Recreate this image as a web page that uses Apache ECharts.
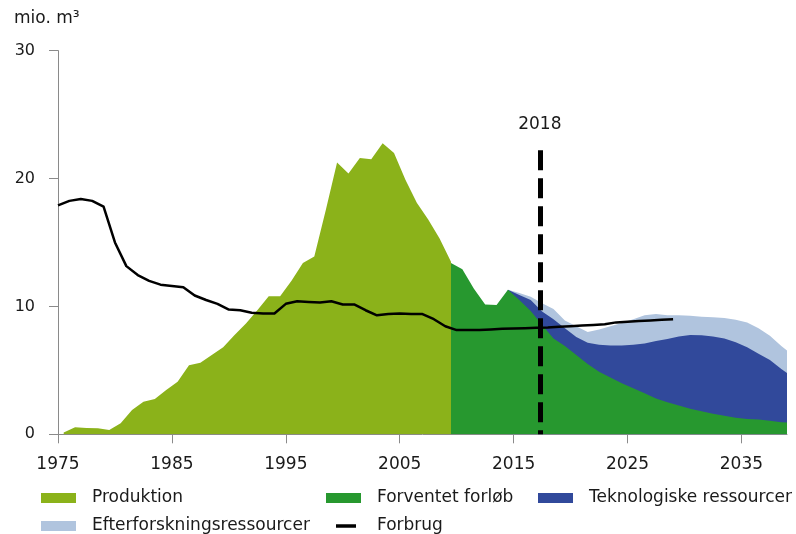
<!DOCTYPE html>
<html>
<head>
<meta charset="utf-8">
<script src="https://cdn.jsdelivr.net/npm/echarts@6/dist/echarts.min.js"></script>
<style>
html,body{margin:0;padding:0;background:#fff;}
#chart{width:796px;height:534px;}
</style>
</head>
<body>
<div id="chart"></div>
<script>
// ---------------- DATA ----------------
const baseYear = 1975;
const xTickYears = [1975, 1985, 1995, 2005, 2015, 2025, 2035];
const yTicks = [0, 10, 20, 30];

// Produktion (historical), mio. m3
const prodYears = [1975,1976,1977,1978,1979,1980,1981,1982,1983,1984,1985,1986,1987,1988,1989,1990,1991,1992,1993,1994,1995,1996,1997,1998,1999,2000,2001,2002,2003,2004,2005,2006,2007,2008,2009];
const produktion = [0.15,0.55,0.5,0.47,0.34,0.86,1.9,2.55,2.76,3.46,4.1,5.4,5.6,6.2,6.8,7.76,8.67,9.7,10.8,10.8,12.0,13.4,13.9,17.5,21.25,20.4,21.6,21.5,22.75,22.0,19.9,18.1,16.8,15.3,13.5];

// Prognosis: expected course
const fcYears = [2009,2010,2011,2012,2013,2014,2015,2016,2017,2018,2019,2020,2021,2022,2023,2024,2025,2026,2027,2028,2029,2030,2031,2032,2033,2034,2035,2036,2037,2038,2039];
const forventet = [13.4,12.9,11.4,10.15,10.1,11.3,10.5,9.65,8.55,7.5,6.9,6.2,5.5,4.9,4.45,4.0,3.6,3.2,2.8,2.5,2.25,2.0,1.8,1.6,1.45,1.3,1.2,1.15,1.05,0.95,0.9];

// Additional resources on top of the expected course
const resYears = [2014,2015,2016,2017,2018,2019,2020,2021,2022,2023,2024,2025,2026,2027,2028,2029,2030,2031,2032,2033,2034,2035,2036,2037,2038,2039];
const teknologiske = [0,0.4,0.85,1.05,1.5,1.4,1.4,1.65,2.1,2.5,2.95,3.4,3.9,4.5,4.95,5.4,5.76,5.95,6.05,6.05,5.9,5.6,5.15,4.75,4.15,3.6];
const efterforskning = [0,0.15,0.25,0.65,0.8,0.6,0.85,0.85,1.2,1.5,1.75,2.0,2.2,2.1,1.85,1.65,1.5,1.45,1.5,1.6,1.75,1.95,2.0,1.9,1.8,1.7];

// Forbrug (consumption)
const forbrugYears = [1975,1976,1977,1978,1979,1980,1981,1982,1983,1984,1985,1986,1987,1988,1989,1990,1991,1992,1993,1994,1995,1996,1997,1998,1999,2000,2001,2002,2003,2004,2005,2006,2007,2008,2009,2010,2011,2012,2013,2014,2015,2016,2017,2018,2019,2020,2021,2022,2023,2024,2025,2026,2027,2028,2029];
const forbrug = [17.9,18.25,18.4,18.25,17.8,15.0,13.15,12.45,12.0,11.7,11.6,11.5,10.85,10.5,10.2,9.75,9.7,9.5,9.45,9.45,10.2,10.4,10.35,10.3,10.4,10.15,10.15,9.7,9.3,9.4,9.45,9.4,9.4,9.0,8.45,8.15,8.15,8.15,8.2,8.25,8.28,8.3,8.33,8.35,8.4,8.45,8.5,8.55,8.6,8.75,8.8,8.85,8.9,8.95,9.0];

// Marker line
const markerYear = 2017.3;
const markerLabel = '2018';
const markerTop = 22.2;

const lastYear = 2039;

// ---------------- STYLE ----------------
const FONT = 'DejaVu Sans';
const C_PROD = '#8bb21a';
const C_FORV = '#27982f';
const C_TEKN = '#31499b';
const C_EFTER = '#b0c4de';
const C_TXT = '#1a1a1a';
const C_AXIS = '#8a8a8a';

// cumulative totals (stack) built from the series arrays
const fcAt = y => forventet[fcYears.indexOf(y)];
const teknTotal = resYears.map((y, i) => fcAt(y) + teknologiske[i]);
const efterTotal = resYears.map((y, i) => fcAt(y) + teknologiske[i] + efterforskning[i]);

// annual volumes placed at mid-year
const areaPts = (years, vals) => years.map((y, i) => [y - baseYear + 0.5, vals[i]]);
const linePts = (years, vals) => years.map((y, i) => [y - baseYear, vals[i]]);

const areaSeries = (name, color, data) => ({
  type: 'line', name, data,
  symbol: 'none', showSymbol: false, smooth: false,
  lineStyle: { width: 0, color },
  itemStyle: { color },
  areaStyle: { color, opacity: 1, origin: 'start' },
  emphasis: { disabled: true },
  silent: true
});

const legendText = (pad) => ({ fontFamily: FONT, fontSize: 17, color: C_TXT, lineHeight: 20, padding: [0, 0, 0, pad] });
const legendBase = { orient: 'horizontal', padding: 0, selectedMode: false, icon: 'rect', itemWidth: 35, itemHeight: 10 };

const chart = echarts.init(document.getElementById('chart'), null, { renderer: 'canvas' });
chart.setOption({
  animation: false,
  backgroundColor: '#fff',
  title: {
    text: 'mio. m³', left: 14, top: 9, padding: 0,
    textStyle: { fontFamily: FONT, fontSize: 17, fontWeight: 'normal', color: C_TXT, lineHeight: 20 }
  },
  grid: { left: 58, right: 9, top: 50.6, bottom: 99.7, containLabel: false },
  xAxis: {
    type: 'value', min: 0, max: lastYear - baseYear, interval: 10,
    axisLine: { show: true, onZero: false, lineStyle: { color: C_AXIS, width: 1 } },
    axisTick: { show: true, length: 9, inside: false, lineStyle: { color: C_AXIS }, customValues: xTickYears.map(y => y - baseYear) },
    axisLabel: { customValues: xTickYears.map(y => y - baseYear), formatter: v => String(v + baseYear), fontFamily: FONT, fontSize: 17, color: C_TXT, margin: 20, lineHeight: 20 },
    splitLine: { show: false }
  },
  yAxis: {
    type: 'value', min: 0, max: 30, interval: 10,
    axisLine: { show: true, lineStyle: { color: C_AXIS, width: 1 } },
    axisTick: { show: true, length: 9, lineStyle: { color: C_AXIS } },
    axisLabel: { customValues: yTicks, fontFamily: FONT, fontSize: 16, color: C_TXT, margin: 23 },
    splitLine: { show: false }
  },
  legend: [
    Object.assign({}, legendBase, { data: ['Produktion'], left: 41, top: 488, textStyle: legendText(11) }),
    Object.assign({}, legendBase, { data: ['Forventet forløb'], left: 326, top: 488, textStyle: legendText(11) }),
    Object.assign({}, legendBase, { data: ['Teknologiske ressourcer'], left: 538, top: 488, textStyle: legendText(11) }),
    Object.assign({}, legendBase, { data: ['Efterforskningsressourcer'], left: 41, top: 516, textStyle: legendText(11) }),
    Object.assign({}, legendBase, { data: ['Forbrug'], left: 336, top: 516, itemWidth: 20, itemHeight: 3.5, textStyle: legendText(16) })
  ],
  series: [
    areaSeries('Produktion', C_PROD, areaPts(prodYears, produktion)),
    areaSeries('Efterforskningsressourcer', C_EFTER, areaPts(resYears, efterTotal)),
    areaSeries('Teknologiske ressourcer', C_TEKN, areaPts(resYears, teknTotal)),
    areaSeries('Forventet forløb', C_FORV, areaPts(fcYears, forventet)),
    {
      type: 'line', name: 'Forbrug', data: linePts(forbrugYears, forbrug),
      symbol: 'none', showSymbol: false,
      lineStyle: { color: '#000', width: 2.5, join: 'round' },
      itemStyle: { color: '#000' },
      emphasis: { disabled: true },
      silent: true, z: 5,
      markLine: {
        silent: true, symbol: 'none', animation: false,
        lineStyle: { color: '#000', width: 5, type: [20, 8] },
        label: { show: true, position: 'start', formatter: markerLabel, fontFamily: FONT, fontSize: 17, color: C_TXT, distance: 17 },
        emphasis: { disabled: true },
        data: [[ { coord: [markerYear - baseYear, markerTop] }, { coord: [markerYear - baseYear, 0] } ]]
      }
    }
  ]
});
</script>
</body>
</html>
